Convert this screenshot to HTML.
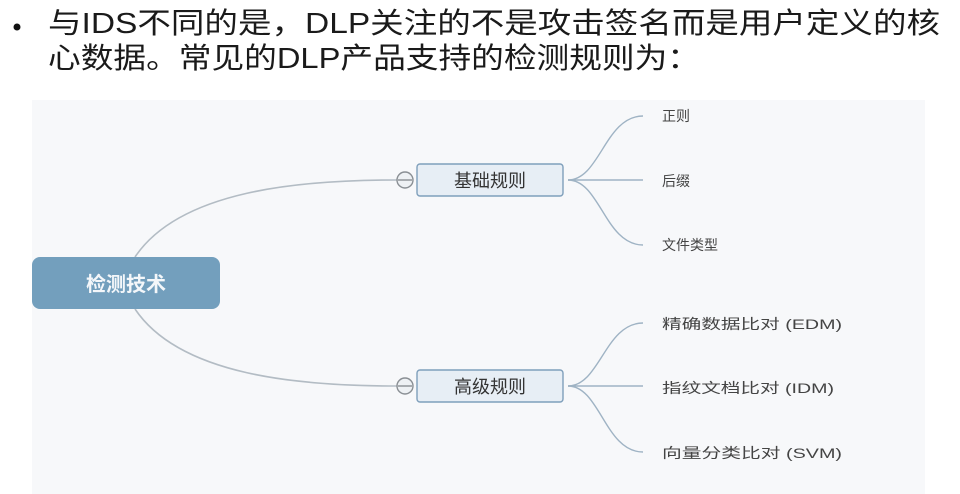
<!DOCTYPE html>
<html><head><meta charset="utf-8"><style>
html,body{margin:0;padding:0;background:#fff;width:960px;height:494px;overflow:hidden}
svg{display:block}
</style></head><body>
<svg width="960" height="494" viewBox="0 0 960 494" xmlns="http://www.w3.org/2000/svg" font-family="Liberation Sans, Noto Sans CJK SC, sans-serif">
<rect x="32" y="100" width="893" height="394" fill="#f7f8fa"/>
<circle cx="17" cy="27" r="3.5" fill="#111"/>
<text x="48" y="33" font-size="29" fill="#1a1a1a" textLength="892" lengthAdjust="spacingAndGlyphs">与IDS不同的是，DLP关注的不是攻击签名而是用户定义的核</text>
<text x="48" y="68" font-size="29" fill="#1a1a1a" textLength="652" lengthAdjust="spacingAndGlyphs">心数据。常见的DLP产品支持的检测规则为：</text>
<g fill="none" stroke="#b3bcc4" stroke-width="1.6">
<path d="M135 257 C180 190 300 180 397 180"/>
<path d="M135 309 C180 376 300 386 397 386"/>
</g>
<g fill="none" stroke="#9fb3c4" stroke-width="1.4">
<path d="M568 180 C600 180 605 116 643 116"/>
<path d="M568 180 L643 180"/>
<path d="M568 180 C600 180 605 245 643 245"/>
<path d="M568 386 C600 386 605 323 643 323"/>
<path d="M568 386 L643 386"/>
<path d="M568 386 C600 386 605 452 643 452"/>
</g>
<rect x="32" y="257" width="188" height="52" rx="8" fill="#739fbd"/>
<text x="126" y="291" font-size="20" font-weight="bold" fill="#f4f7fa" text-anchor="middle">检测技术</text>
<g>
<circle cx="405" cy="180" r="8" fill="#eef1f4" stroke="#8a8f94" stroke-width="1.4"/>
<line x1="398" y1="180" x2="412" y2="180" stroke="#8a8f94" stroke-width="1.4"/>
<rect x="417" y="164" width="146" height="32" rx="3" fill="#e7eef5" stroke="#7f9fbb" stroke-width="1.4"/>
<text x="490" y="187" font-size="18" fill="#333" text-anchor="middle">基础规则</text>
<circle cx="405" cy="386" r="8" fill="#eef1f4" stroke="#8a8f94" stroke-width="1.4"/>
<line x1="398" y1="386" x2="412" y2="386" stroke="#8a8f94" stroke-width="1.4"/>
<rect x="417" y="370" width="146" height="32" rx="3" fill="#e7eef5" stroke="#7f9fbb" stroke-width="1.4"/>
<text x="490" y="393" font-size="18" fill="#333" text-anchor="middle">高级规则</text>
</g>
<g font-size="14" fill="#444">
<text x="662" y="121">正则</text>
<text x="662" y="186">后缀</text>
<text x="662" y="250">文件类型</text>
<text x="662" y="329" textLength="180" lengthAdjust="spacingAndGlyphs">精确数据比对 (EDM)</text>
<text x="662" y="393" textLength="172" lengthAdjust="spacingAndGlyphs">指纹文档比对 (IDM)</text>
<text x="662" y="458" textLength="180" lengthAdjust="spacingAndGlyphs">向量分类比对 (SVM)</text>
</g>
</svg>
</body></html>
